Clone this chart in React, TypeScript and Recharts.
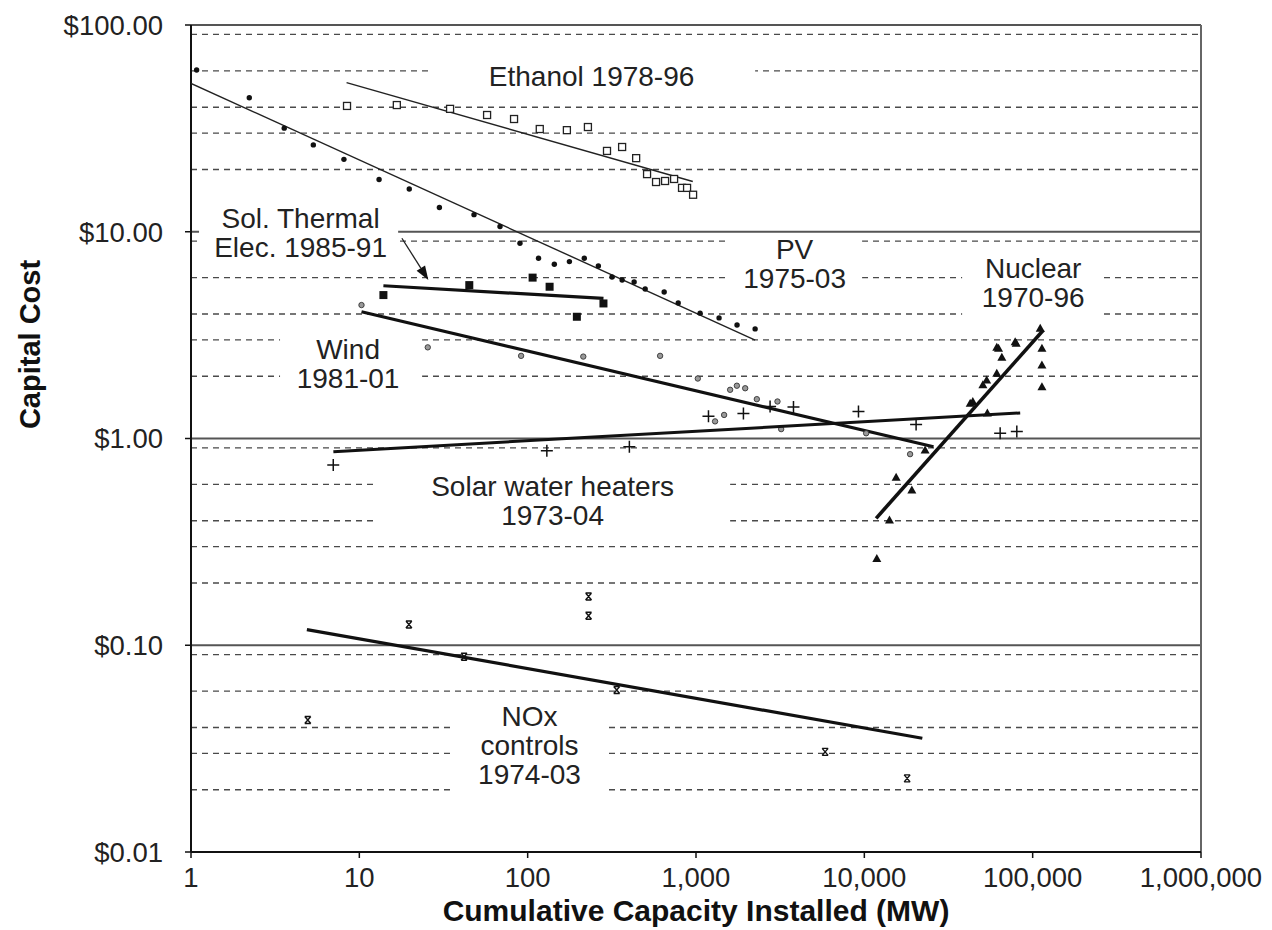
import { ScatterChart, Scatter, XAxis, YAxis, CartesianGrid, ReferenceArea, ReferenceLine } from 'recharts';

const FONT = '"Liberation Sans", Arial, Helvetica, sans-serif';

// [cumulative MW, $ capital cost]
const ethanolPts = [
  [8.45, 40.6], [16.7, 41], [34.6, 39.3], [57.4, 36.7], [83, 35.1], [118, 31.4],
  [171, 31.0], [228, 32.1], [296, 24.6], [364, 25.7], [441, 22.7], [512, 19.0],
  [579, 17.4], [655, 17.6], [741, 18.0], [826, 16.3], [885, 16.3], [961, 15.1],
];
const ethanolFit = [[8.4, 52.6], [957, 17.5]];

const pvPts = [
  [1.08, 60.6], [2.22, 44.5], [3.58, 31.7], [5.33, 26.3], [8.1, 22.4], [13.1, 17.9],
  [19.8, 16.1], [29.9, 13.1], [48, 12.1], [68.5, 10.6], [90, 8.8], [116, 7.44],
  [144, 6.96], [177, 7.17], [217, 7.45], [263, 6.83], [317, 6.04], [364, 5.84],
  [429, 5.71], [499, 5.29], [647, 5.11], [784, 4.52], [1058, 4.04], [1371, 3.83],
  [1753, 3.54], [2245, 3.39],
];
const pvFit = [[1, 52.2], [2245, 2.99]];

const solThermalPts = [[13.9, 4.94], [45, 5.52], [107, 6.0], [135, 5.42], [196, 3.88], [282, 4.5]];
const solThermalFit = [[13.9, 5.48], [282, 4.76]];

const windPts = [
  [10.3, 4.42], [25.5, 2.76], [91.4, 2.51], [214, 2.49], [612, 2.51], [1025, 1.95],
  [1298, 1.21], [1469, 1.30], [1595, 1.72], [1749, 1.80], [1960, 1.75], [2298, 1.55],
  [3048, 1.51], [3206, 1.11], [10250, 1.06], [18700, 0.84],
];
const windFit = [[10.3, 4.1], [25770, 0.912]];

const swhPts = [
  [7.0, 0.745], [130, 0.873], [402, 0.912], [1186, 1.28], [1913, 1.32], [2755, 1.43],
  [3794, 1.42], [9230, 1.35], [20300, 1.17], [64100, 1.06], [80500, 1.08],
];
const swhFit = [[7.01, 0.863], [84300, 1.33]];

const nuclearPts = [
  [11860, 0.263], [14100, 0.404], [15450, 0.649], [19150, 0.563], [22960, 0.88],
  [42550, 1.48], [44100, 1.51], [53800, 1.33], [50600, 1.82], [53300, 1.92],
  [61200, 2.07], [61200, 2.76], [65600, 2.47], [78700, 2.94], [79800, 2.89],
  [62700, 2.73], [110900, 3.41], [113500, 2.73], [113500, 2.27], [113500, 1.78],
];
const nuclearFit = [[11750, 0.411], [115900, 3.35]];

const noxPts = [
  [4.94, 0.0435], [19.7, 0.126], [41.9, 0.088], [230, 0.172], [230, 0.139],
  [338, 0.0608], [5850, 0.0305], [17960, 0.0227],
];
const noxFit = [[4.88, 0.119], [22100, 0.0355]];

const xTicks = [1, 10, 100, 1000, 10000, 100000, 1000000];
const yTicks = [0.01, 0.1, 1, 10, 100];
const yMajor = [0.1, 1, 10, 100];
const yMinor: number[] = [];
[0.01, 0.1, 1, 10].forEach(d => {
  for (let k = 2; k <= 9; k++) yMinor.push(+(d * k).toFixed(4));
});

// white label boxes that break the gridlines
const labels = [
  { x1: 25.6, x2: 2245, y1: 45.8, y2: 66.2, lines: ['Ethanol 1978-96'], dx: 0, dy: -2 },
  { x1: 1.116, x2: 17.0, y1: 6.53, y2: 15.06, lines: ['Sol. Thermal', 'Elec. 1985-91'], dx: 2, dy: 0 },
  { x1: 1531, x2: 9700, y1: 4.42, y2: 9.54, lines: ['PV', '1975-03'], dx: 0, dy: -7 },
  { x1: 38100, x2: 258800, y1: 3.66, y2: 7.46, lines: ['Nuclear', '1970-96'], dx: 1, dy: -7 },
  { x1: 3.38, x2: 23.6, y1: 1.68, y2: 3.35, lines: ['Wind', '1981-01'], dx: -3, dy: 3 },
  { x1: 12.4, x2: 1595, y1: 0.361, y2: 0.659, lines: ['Solar water heaters', '1973-04'], dx: 0, dy: -2 },
  { x1: 37.0, x2: 300, y1: 0.01866, y2: 0.0556, lines: ['NOx', 'controls', '1974-03'], dx: -2, dy: -1 },
];

const toXY = (arr: number[][]) => arr.map(([x, y]) => ({ x, y }));

const OpenSquare = ({ cx, cy }: any) => (
  <rect x={cx - 3.5} y={cy - 3.5} width={7} height={7} fill="#fff" stroke="#222" strokeWidth={1.3} />
);
const Dot = ({ cx, cy }: any) => <circle cx={cx} cy={cy} r={2.7} fill="#111" />;
const FilledSquare = ({ cx, cy }: any) => (
  <rect x={cx - 4} y={cy - 4} width={8} height={8} fill="#111" />
);
const GreyDot = ({ cx, cy }: any) => (
  <circle cx={cx} cy={cy} r={2.7} fill="#999" stroke="#333" strokeWidth={0.9} />
);
const Plus = ({ cx, cy }: any) => (
  <path d={`M${cx - 6},${cy}H${cx + 6}M${cx},${cy - 6}V${cy + 6}`} stroke="#111" strokeWidth={1.5} />
);
const Triangle = ({ cx, cy }: any) => (
  <path d={`M${cx},${cy - 4.5}L${cx + 4.5},${cy + 3.5}L${cx - 4.5},${cy + 3.5}Z`} fill="#111" />
);
const Hourglass = ({ cx, cy }: any) => (
  <path
    d={`M${cx - 3},${cy - 3.5}H${cx + 3}M${cx - 3},${cy + 3.5}H${cx + 3}M${cx - 3},${cy - 3.5}L${cx + 3},${cy + 3.5}M${cx + 3},${cy - 3.5}L${cx - 3},${cy + 3.5}`}
    stroke="#111"
    strokeWidth={1.4}
  />
);
const NoShape = () => <g />;

const boxLabel = (lines: string[], dx: number, dy: number) => (props: any) => {
  const vb = props.viewBox;
  if (!vb) return null;
  const cx = vb.x + vb.width / 2 + dx;
  const cy = vb.y + vb.height / 2 + dy;
  const lh = 29;
  return (
    <g>
      {lines.map((t, i) => (
        <text
          key={i}
          x={cx}
          y={cy + (i - (lines.length - 1) / 2) * lh}
          textAnchor="middle"
          dominantBaseline="central"
          fontFamily={FONT}
          fontSize={28}
          fill="#222"
        >
          {t}
        </text>
      ))}
    </g>
  );
};

const arrowShape = (props: any) => {
  const { x1, y1, x2, y2 } = props;
  const ang = Math.atan2(y2 - y1, x2 - x1);
  const len = 14, half = 5;
  const bx = x2 - len * Math.cos(ang), by = y2 - len * Math.sin(ang);
  const px = -Math.sin(ang) * half, py = Math.cos(ang) * half;
  return (
    <g>
      <line x1={x1} y1={y1} x2={bx} y2={by} stroke="#222" strokeWidth={1.3} />
      <path d={`M${x2},${y2}L${bx + px},${by + py}L${bx - px},${by - py}Z`} fill="#111" />
    </g>
  );
};

const XTitle = (props: any) => {
  const vb = props.viewBox;
  return (
    <text x={vb.x + vb.width / 2} y={vb.y + 69} textAnchor="middle" fontFamily={FONT} fontSize={30} fontWeight="bold" fill="#111">
      Cumulative Capacity Installed (MW)
    </text>
  );
};

const YTitle = (props: any) => {
  const vb = props.viewBox;
  const x = vb.x + 30;
  const y = vb.y + vb.height / 2 - 94;
  return (
    <text x={x} y={y} transform={`rotate(-90, ${x}, ${y})`} textAnchor="middle" dominantBaseline="central" fontFamily={FONT} fontSize={29} fontWeight="bold" fill="#111">
      Capital Cost
    </text>
  );
};

const tickStyle = { fontFamily: FONT, fontSize: 27.5, fill: '#222' };

export default function App() {
  return (
    <div style={{ position: 'absolute', left: 0, top: 0, background: '#fff' }}>
      <ScatterChart width={1272} height={930} margin={{ top: 25, right: 71, left: 0, bottom: 0 }}>
        <CartesianGrid vertical={false} horizontalValues={yMinor} stroke="#4a4a4a" strokeWidth={1.3} strokeDasharray="6 5" />
        <CartesianGrid vertical={false} horizontalValues={yMajor} stroke="#555" strokeWidth={2} />
        <XAxis
          type="number"
          dataKey="x"
          scale="log"
          domain={[1, 1000000]}
          ticks={xTicks}
          allowDataOverflow
          tickFormatter={(v: number) => v.toLocaleString('en-US')}
          tick={tickStyle}
          tickSize={6}
          tickMargin={9}
          height={78}
          axisLine={{ stroke: '#111', strokeWidth: 2 }}
          tickLine={{ stroke: '#111', strokeWidth: 1.5 }}
          label={<XTitle />}
        />
        <YAxis
          type="number"
          dataKey="y"
          scale="log"
          domain={[0.01, 100]}
          ticks={yTicks}
          allowDataOverflow
          tickFormatter={(v: number) => `$${v.toFixed(2)}`}
          tick={tickStyle}
          tickSize={6}
          tickMargin={22}
          width={191}
          axisLine={{ stroke: '#111', strokeWidth: 2 }}
          tickLine={{ stroke: '#111', strokeWidth: 1.5 }}
          label={<YTitle />}
        />
        <ReferenceLine x={1000000} stroke="#666" strokeWidth={2} />
        {labels.map((l, i) => (
          <ReferenceArea
            key={i}
            x1={l.x1}
            x2={l.x2}
            y1={l.y1}
            y2={l.y2}
            fill="#fff"
            fillOpacity={1}
            stroke="none"
            label={boxLabel(l.lines, l.dx, l.dy)}
          />
        ))}

        <Scatter data={toXY(ethanolFit)} line={{ stroke: '#222', strokeWidth: 1.4 }} shape={NoShape} isAnimationActive={false} legendType="none" />
        <Scatter data={toXY(ethanolPts)} shape={OpenSquare} isAnimationActive={false} legendType="none" />

        <Scatter data={toXY(pvFit)} line={{ stroke: '#222', strokeWidth: 1.4 }} shape={NoShape} isAnimationActive={false} legendType="none" />
        <Scatter data={toXY(pvPts)} shape={Dot} isAnimationActive={false} legendType="none" />

        <Scatter data={toXY(solThermalFit)} line={{ stroke: '#111', strokeWidth: 3.2 }} shape={NoShape} isAnimationActive={false} legendType="none" />
        <Scatter data={toXY(solThermalPts)} shape={FilledSquare} isAnimationActive={false} legendType="none" />

        <Scatter data={toXY(windFit)} line={{ stroke: '#111', strokeWidth: 3.2 }} shape={NoShape} isAnimationActive={false} legendType="none" />
        <Scatter data={toXY(windPts)} shape={GreyDot} isAnimationActive={false} legendType="none" />

        <Scatter data={toXY(swhFit)} line={{ stroke: '#111', strokeWidth: 3 }} shape={NoShape} isAnimationActive={false} legendType="none" />
        <Scatter data={toXY(swhPts)} shape={Plus} isAnimationActive={false} legendType="none" />

        <Scatter data={toXY(nuclearFit)} line={{ stroke: '#111', strokeWidth: 3.6 }} shape={NoShape} isAnimationActive={false} legendType="none" />
        <Scatter data={toXY(nuclearPts)} shape={Triangle} isAnimationActive={false} legendType="none" />

        <Scatter data={toXY(noxFit)} line={{ stroke: '#111', strokeWidth: 3.2 }} shape={NoShape} isAnimationActive={false} legendType="none" />
        <Scatter data={toXY(noxPts)} shape={Hourglass} isAnimationActive={false} legendType="none" />

        <ReferenceLine segment={[{ x: 17.9, y: 9.3 }, { x: 25.7, y: 5.85 }]} shape={arrowShape} />
      </ScatterChart>
    </div>
  );
}
